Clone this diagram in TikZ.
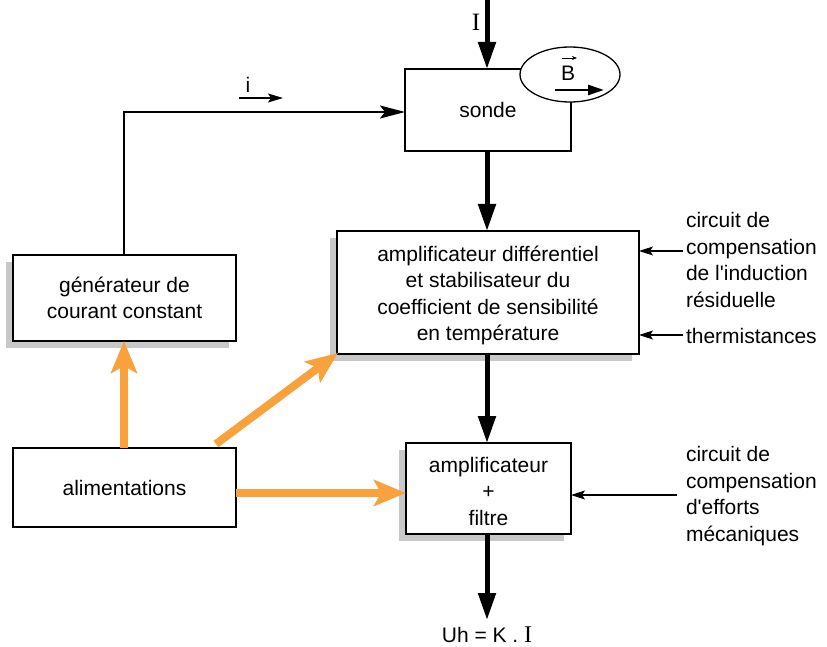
\documentclass[tikz,border=0pt]{standalone}
\usepackage{fontspec}
\setmainfont{Liberation Sans}
\newfontfamily\seriffont{Liberation Serif}
\usetikzlibrary{arrows.meta,shapes.geometric,shadows}
\definecolor{orng}{HTML}{F9A13C}
\definecolor{shd}{HTML}{C8C8C8}
\newcommand{\apos}{\XeTeXglyph\XeTeXcharglyph"27\relax}
\newcommand{\lowered}[2]{\begin{tabular}{@{}c@{}}\rule{0pt}{#1}#2\end{tabular}}
\begin{document}
\begin{tikzpicture}[x=1pt,y=-1pt,
  every node/.style={inner sep=0pt,outer sep=0pt,font=\fontsize{21}{26.5}\selectfont},
  blk/.style={draw,line width=1.3pt,fill=white,align=center},
  shblk/.style={blk,drop shadow={shadow xshift=-7pt,shadow yshift=-7pt,fill=shd,opacity=1}},
  thick arrow/.style={line width=5pt,-{Triangle[length=27pt,width=17pt]}},
  orange arrow/.style={draw=orng,line width=8pt,-{Stealth[length=32pt,width=26pt,inset=7pt]},color=orng},
  thin arrow/.style={line width=1.6pt,-{Stealth[length=25pt,width=13pt,inset=5pt]}},
  small arrow/.style={line width=1.2pt,-{Stealth[length=14pt,width=9pt,inset=3pt]}},
  lbl/.style={align=left,anchor=west}]
\useasboundingbox (0,0) rectangle (827,647);
% boxes
\node[blk,minimum width=166pt,minimum height=82pt] (sonde) at (488,110) {sonde};
\node[draw,line width=1.3pt,fill=white,ellipse,minimum width=100pt,minimum height=55pt] (ell) at (570,74.5) {};
\node (B) at (568,73) {B};
\coordinate (vs) at (562,58);
\coordinate (ve) at (577,58);
\draw[line width=0.8pt,-{Stealth[length=5pt,width=4pt]}] (vs) -- (ve);
\coordinate (bs) at (555,90);
\coordinate (be) at (604,90);
\draw[line width=2.5pt,-{Triangle[length=16pt,width=10pt]}] (bs) -- (be);
\node[shblk,minimum width=223pt,minimum height=86pt] (gen) at (124.5,298) {générateur de\\courant constant};
\node[shblk,minimum width=302pt,minimum height=123pt] (ampd) at (488,292.5) {\lowered{24.5pt}{amplificateur différentiel\\et stabilisateur du\\coefficient de sensibilité\\en température}};
\node[shblk,minimum width=165pt,minimum height=91pt] (ampf) at (488.5,488.5) {\lowered{28.5pt}{amplificateur\\+\\filtre}};
\node[blk,minimum width=223pt,minimum height=79pt] (alim) at (124.5,487.5) {alimentations};
% input I
\coordinate (Itop) at (487,0);
\node (Ilbl) at (476,22) {\seriffont\fontsize{25}{25}\selectfont I};
\draw[thick arrow] (Itop) -- (sonde.north -| Itop);
% i
\node (ilbl) at (248,85) {i};
\coordinate (is) at (239,98);
\coordinate (ie) at (283,98);
\draw[line width=1.4pt,-{Stealth[length=15pt,width=9pt,inset=3pt]}] (is) -- (ie);
% generator to sonde
\coordinate (g1) at (124,112);
\draw[thin arrow] (gen.north -| g1) -- (g1) -- (g1 -| sonde.west);
% vertical thick arrows
\draw[thick arrow] (sonde.south -| Itop) -- (ampd.north -| Itop);
\draw[thick arrow] (ampd.south -| Itop) -- (ampf.north -| Itop);
\coordinate (out) at (487,620);
\draw[thick arrow] (ampf.south -| Itop) -- (out);
\node[anchor=base] (uh) at (487,642) {Uh = K . {\seriffont\fontsize{24}{24}\selectfont I}};
% orange arrows
\coordinate (a1) at (124,448);
\draw[orange arrow] (alim.north -| a1) -- (gen.south -| a1);
\coordinate (a2) at (216,444);
\coordinate (a3) at (338,353);
\draw[orange arrow] (a2) -- (a3);
\coordinate (a4) at (236,493);
\draw[orange arrow] (alim.east |- a4) -- (ampf.west |- a4);
% right labels
\node[lbl] (c1) at (686,260) {circuit de\\compensation\\de l\apos induction\\résiduelle};
\node[lbl] (th) at (686,336) {thermistances};
\node[lbl] (c2) at (686,496) {circuit de\\compensation\\d\apos efforts\\mécaniques};
\coordinate (r1) at (683,251);
\draw[small arrow] (r1) -- (ampd.east |- r1);
\coordinate (r2) at (683,335);
\draw[small arrow] (r2) -- (ampd.east |- r2);
\coordinate (r3) at (677,495);
\draw[small arrow] (r3) -- (ampf.east |- r3);
\end{tikzpicture}
\end{document}
